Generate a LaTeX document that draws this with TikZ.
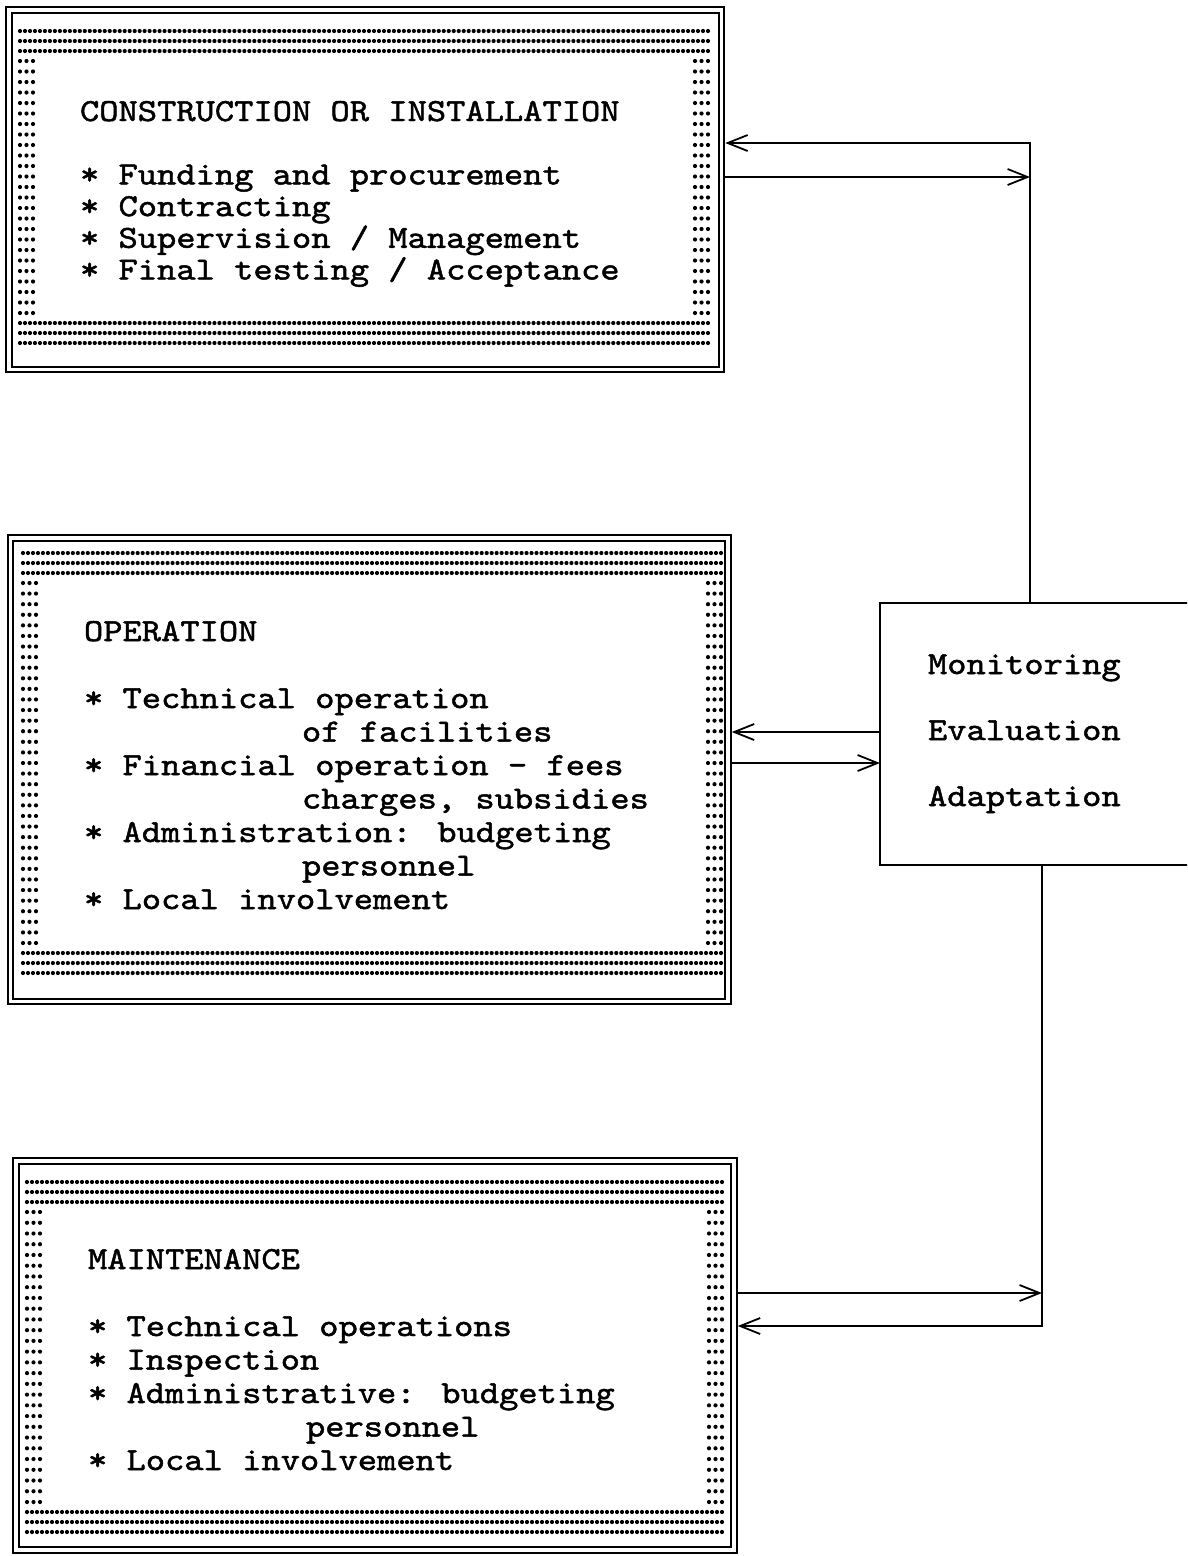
\documentclass[tikz,border=0pt]{standalone}
\usepackage{fontspec}
\newfontfamily\typer[Extension=.otf, FakeBold=1.5, FakeStretch=1.14]{lmmono10-regular}
\usetikzlibrary{arrows.meta}

% band of printed dots inside a frame: three rows top and bottom, three columns left and right
\newcommand\dotband[4]{%
  \pgfmathtruncatemacro\nh{round((#3-#1)/5)}%
  \pgfmathsetmacro\dh{(#3-#1)/\nh}%
  \foreach \r in {0,10,20}{
    \foreach \i in {0,...,\nh}{
      \fill (#1+\i*\dh, #2+\r) circle (2.1);
      \fill (#1+\i*\dh, #4-\r) circle (2.1);
    }
  }
  \pgfmathtruncatemacro\nv{round((#4-#2-60)/10.6)}%
  \pgfmathsetmacro\dv{(#4-#2-60)/\nv}%
  \foreach \c in {0,6.5,13}{
    \foreach \j in {0,...,\nv}{
      \fill (#1+\c, #2+30+\j*\dv) circle (2.1);
      \fill (#3-\c, #2+30+\j*\dv) circle (2.1);
    }
  }
}

\tikzset{
  frame/.style={draw, double, double distance=3.5pt, line width=2pt,
    rectangle, inner sep=0pt, outer sep=3.75pt},
  monbox/.style={draw, line width=1.8pt, rectangle, inner sep=0pt, outer sep=0pt},
  txt/.style={inner sep=0pt, outer sep=0pt, align=left},
  link/.style={line width=1.8pt},
  arr/.style={link, -{Straight Barb[length=20pt,width=16pt,line width=1.8pt]}},
}

\begin{document}
\begin{tikzpicture}[x=1pt,y=-1pt]
\useasboundingbox (0,0) rectangle (1187,1556);
\clip (0,0) rectangle (1187,1556);

% three stage frames
\node[frame, minimum width=712.5pt, minimum height=359.5pt] (box1) at (365.25,189.75) {};
\node[frame, minimum width=717.5pt, minimum height=463.5pt] (box2) at (369.25,769.75) {};
\node[frame, minimum width=718pt, minimum height=389pt] (box3) at (375,1355.5) {};

\dotband{20}{31}{708}{343}
\dotband{23}{553}{721}{973}
\dotband{27}{1182}{722}{1532}

% stage texts (base anchor sits on the last line)
\node[txt, anchor=base west, font={\typer\fontsize{32.2pt}{31.7pt}\selectfont}] (text1) at (80,279.5)
  {CONSTRUCTION OR INSTALLATION\\[31.7pt]
   * Funding and procurement\\
   * Contracting\\
   * Supervision / Management\\
   * Final testing / Acceptance};

\node[txt, anchor=base west, font={\typer\fontsize{32.2pt}{33.5pt}\selectfont}] (text2) at (84,909)
  {OPERATION\\[33.5pt]
   * Technical operation\\
   \hspace*{218pt}of facilities\\
   * Financial operation - fees\\
   \hspace*{218pt}charges, subsidies\\
   * Administration: budgeting\\
   \hspace*{218pt}personnel\\
   * Local involvement};

\node[txt, anchor=base west, font={\typer\fontsize{32.2pt}{33.5pt}\selectfont}] (text3) at (88,1470)
  {MAINTENANCE\\[33.5pt]
   * Technical operations\\
   * Inspection\\
   * Administrative: budgeting\\
   \hspace*{218pt}personnel\\
   * Local involvement};

% monitoring box
\node[monbox, minimum width=312pt, minimum height=262pt, anchor=north west] (mon) at (880,603) {};
\node[txt, anchor=base west, font={\typer\fontsize{32.2pt}{33pt}\selectfont}] (montext) at (928,806)
  {Monitoring\\[33pt]Evaluation\\[33pt]Adaptation};

% feedback connectors
\coordinate (t1) at (1030,143);
\coordinate (t2) at (1030,177);
\coordinate (m1) at (880,732);
\coordinate (m2) at (880,763);
\coordinate (b1) at (1042,1293);
\coordinate (b2) at (1042,1326);

\draw[arr] (mon.north -| t1) -- (t1) -- (box1.east |- t1);
\draw[arr] (box1.east |- t2) -- (t2);

\draw[arr] (m1) -- (box2.east |- m1);
\draw[arr] (box2.east |- m2) -- (m2);

\draw[arr] (box3.east |- b1) -- (b1);
\draw[arr] (mon.south -| b2) -- (b2) -- (box3.east |- b2);
\end{tikzpicture}
\end{document}
